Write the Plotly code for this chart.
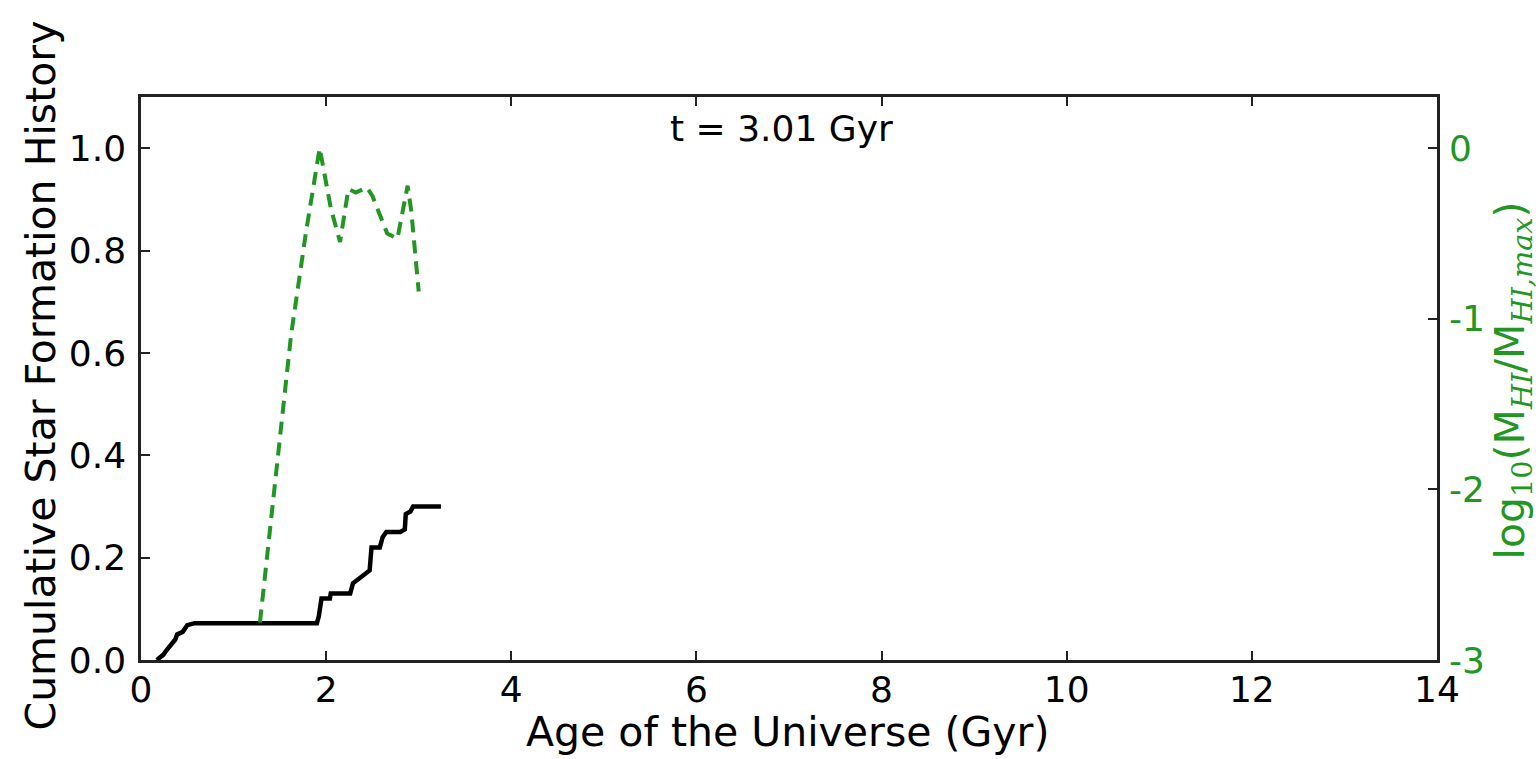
import plotly.graph_objects as go

# Cumulative star formation history (left axis)
sfh_age = [0.17, 0.24, 0.28, 0.37, 0.39, 0.45, 0.50, 0.58, 1.90, 1.92, 1.95, 2.04,
           2.05, 2.26, 2.29, 2.37, 2.47, 2.49, 2.58, 2.61, 2.65, 2.80, 2.85, 2.86,
           2.91, 2.94, 3.24]
sfh_cum = [0.0, 0.01, 0.02, 0.04, 0.05, 0.055, 0.068, 0.072, 0.072, 0.085, 0.12, 0.12,
           0.13, 0.13, 0.15, 0.16, 0.175, 0.22, 0.22, 0.24, 0.25, 0.25, 0.255, 0.285,
           0.29, 0.30, 0.30]

# Normalised HI mass history (right axis, log10)
hi_age = [1.285, 1.45, 1.62, 1.78, 1.93, 2.05, 2.15, 2.24, 2.32, 2.44, 2.50, 2.66,
          2.77, 2.88, 2.92, 3.00]
hi_log = [-2.78, -1.95, -1.10, -0.50, 0.0, -0.35, -0.55, -0.24, -0.26, -0.23, -0.28,
          -0.50, -0.53, -0.22, -0.37, -0.84]

x_ticks = [0, 2, 4, 6, 8, 10, 12, 14]
y_ticks = [0.0, 0.2, 0.4, 0.6, 0.8, 1.0]
y2_ticks = [0, -1, -2, -3]

GREEN = "#229622"
FONT = "DejaVu Sans"
FRAME = "#222222"
TICK_SIZE = 36
LABEL_SIZE = 41

fig = go.Figure()
fig.add_trace(go.Scatter(x=sfh_age, y=sfh_cum, mode="lines",
                         line=dict(color="black", width=4.5), showlegend=False))
fig.add_trace(go.Scatter(x=hi_age, y=hi_log, mode="lines", yaxis="y2",
                         line=dict(color=GREEN, width=4, dash="13px,8px"),
                         showlegend=False))

sub = '<sub><span style="font-family:DejaVu Serif"><i>{}</i></span></sub>'
hi_title = ("log" + '<sub><span style="font-family:DejaVu Serif">10</span></sub>'
            + "(M" + sub.format("HI") + "/M" + sub.format("HI,max") + ")")

fig.update_layout(
    width=1540, height=759,
    margin=dict(l=141, r=103, t=97, b=99),
    paper_bgcolor="white", plot_bgcolor="white",
    font=dict(family=FONT, size=TICK_SIZE, color="black"),
    xaxis=dict(range=[0, 14], tickvals=x_ticks, ticktext=[str(v) for v in x_ticks],
               ticks="inside", ticklen=9, tickwidth=1.5, tickcolor=FRAME,
               showline=True, linecolor=FRAME, linewidth=2.5, mirror="ticks",
               showgrid=False, zeroline=False, ticklabelstandoff=-4),
    yaxis=dict(range=[0, 1.1], tickvals=y_ticks, ticktext=[f"{v:.1f}" for v in y_ticks],
               ticks="inside", ticklen=9, tickwidth=1.5, tickcolor=FRAME,
               showline=True, linecolor=FRAME, linewidth=2.5,
               showgrid=False, zeroline=False, ticklabelstandoff=5),
    yaxis2=dict(range=[-3, 0.3], overlaying="y", side="right",
                tickvals=y2_ticks, ticktext=[str(v) for v in y2_ticks],
                ticks="inside", ticklen=9, tickwidth=1.5, tickcolor=FRAME,
                tickfont=dict(color=GREEN, size=TICK_SIZE),
                showline=True, linecolor=FRAME, linewidth=2.5,
                showgrid=False, zeroline=False, ticklabelstandoff=2),
    annotations=[
        dict(text="t = 3.01 Gyr", xref="paper", yref="paper", x=0.494, y=1,
             yshift=-31, xanchor="center", yanchor="middle", showarrow=False,
             font=dict(size=TICK_SIZE, color="black")),
        dict(text="Age of the Universe (Gyr)", xref="paper", yref="paper", x=0.499, y=0,
             yshift=-72, xanchor="center", yanchor="middle", showarrow=False,
             font=dict(size=LABEL_SIZE, color="black")),
        dict(text="Cumulative Star Formation History", xref="paper", yref="paper",
             x=0, y=0.5, xshift=-101, yshift=3, textangle=-90, xanchor="center",
             yanchor="middle", showarrow=False, font=dict(size=LABEL_SIZE, color="black")),
        dict(text=hi_title, xref="paper", yref="paper", x=1, y=0.5, xshift=75, yshift=-2,
             textangle=-90, xanchor="center", yanchor="middle", showarrow=False,
             font=dict(size=LABEL_SIZE, color=GREEN)),
    ],
)

fig.write_html("out.html")
